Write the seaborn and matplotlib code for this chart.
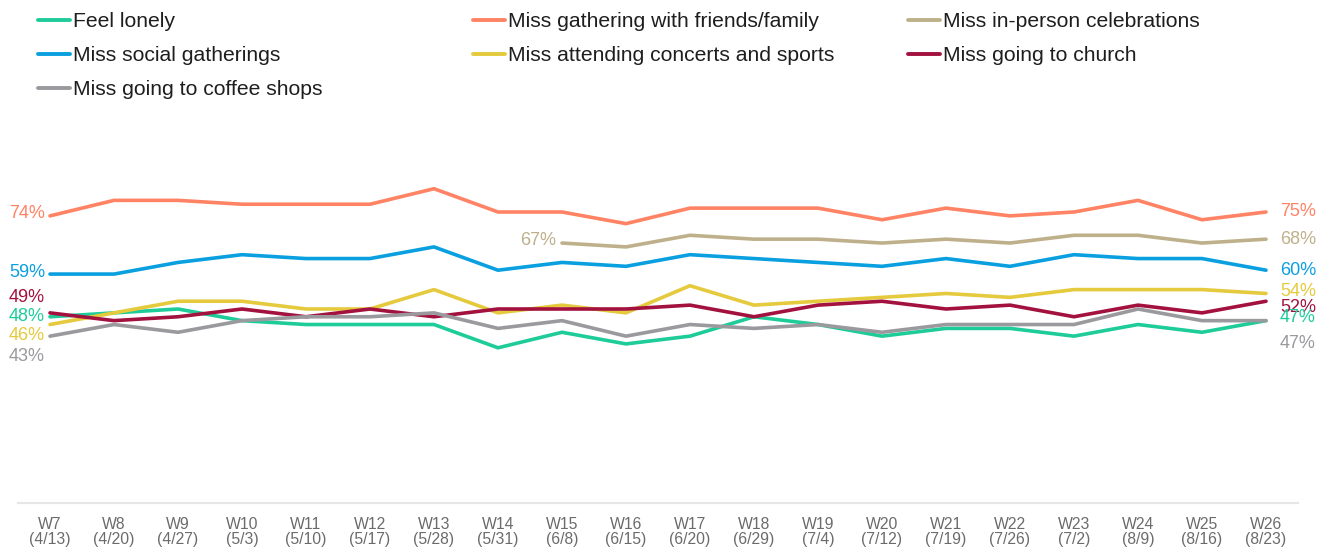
import numpy as np
import pandas as pd
import matplotlib
matplotlib.use("Agg")
import matplotlib.pyplot as plt
import seaborn as sns
from matplotlib.lines import Line2D

sns.set_theme(style="white")
plt.rcParams['font.family'] = ['Liberation Sans', 'DejaVu Sans']

weeks = ["W7", "W8", "W9", "W10", "W11", "W12", "W13", "W14", "W15", "W16",
         "W17", "W18", "W19", "W20", "W21", "W22", "W23", "W24", "W25", "W26"]
dates = ["(4/13)", "(4/20)", "(4/27)", "(5/3)", "(5/10)", "(5/17)", "(5/28)", "(5/31)", "(6/8)", "(6/15)",
         "(6/20)", "(6/29)", "(7/4)", "(7/12)", "(7/19)", "(7/26)", "(7/2)", "(8/9)", "(8/16)", "(8/23)"]

feel_lonely   = [48, 49, 50, 47, 46, 46, 46, 40, 44, 41, 43, 48, 46, 43, 45, 45, 43, 46, 44, 47]
miss_friends  = [74, 78, 78, 77, 77, 77, 81, 75, 75, 72, 76, 76, 76, 73, 76, 74, 75, 78, 73, 75]
miss_celebr   = [np.nan] * 8 + [67, 66, 69, 68, 68, 67, 68, 67, 69, 69, 67, 68]
miss_social   = [59, 59, 62, 64, 63, 63, 66, 60, 62, 61, 64, 63, 62, 61, 63, 61, 64, 63, 63, 60]
miss_concerts = [46, 49, 52, 52, 50, 50, 55, 49, 51, 49, 56, 51, 52, 53, 54, 53, 55, 55, 55, 54]
miss_church   = [49, 47, 48, 50, 48, 50, 48, 50, 50, 50, 51, 48, 51, 52, 50, 51, 48, 51, 49, 52]
miss_coffee   = [43, 46, 44, 47, 48, 48, 49, 45, 47, 43, 46, 45, 46, 44, 46, 46, 46, 50, 47, 47]

names = ["Feel lonely", "Miss gathering with friends/family", "Miss in-person celebrations",
         "Miss social gatherings", "Miss attending concerts and sports", "Miss going to church",
         "Miss going to coffee shops"]
series = [feel_lonely, miss_friends, miss_celebr, miss_social, miss_concerts, miss_church, miss_coffee]
colors = ["#1ECC9A", "#FF8364", "#BEB08B", "#0AA0E0", "#E4CA3C", "#A3123F", "#9A9A9E"]
palette = dict(zip(names, colors))

rows = []
for n, vals in zip(names, series):
    for i, v in enumerate(vals):
        rows.append({"idx": i, "value": v, "series": n})
df = pd.DataFrame(rows).dropna()

fig = plt.figure(figsize=(13.29, 5.48), dpi=100)
ax = fig.add_axes([18 / 1329, 45 / 548, 1280 / 1329, 388 / 548])

sns.lineplot(data=df, x="idx", y="value", hue="series", palette=palette,
             hue_order=names, linewidth=2.6, ax=ax, legend=False, sort=True)

ax.set_xlim(-0.5, 19.5)
ax.set_ylim(0, 100)
for s in ["top", "right", "left"]:
    ax.spines[s].set_visible(False)
ax.spines["bottom"].set_color("#E6E6E6")
ax.spines["bottom"].set_linewidth(1.5)
ax.set_yticks([])
ax.set_xticks(range(len(weeks)))
ax.set_xticklabels([f"{w}\n{d}" for w, d in zip(weeks, dates)], fontsize=11.3, color="#6B6B6B",
                   linespacing=1.0)
ax.tick_params(axis="x", length=0, pad=10)
ax.set_xlabel("")
ax.set_ylabel("")

# end labels: (series index -> offset y px)
left_offsets = {1: 2, 3: 2, 5: 15, 0: 0, 4: -11, 6: -20}
right_offsets = {1: 0, 2: 0, 3: 0, 4: 2, 5: -6, 0: 3, 6: -23}
for k, dy in left_offsets.items():
    v = series[k][0]
    ax.annotate(f"{int(v)}%", xy=(0, v), xytext=(-5, dy), textcoords="offset pixels",
                ha="right", va="center", fontsize=13, color=colors[k])
for k, dy in right_offsets.items():
    v = series[k][-1]
    ax.annotate(f"{int(v)}%", xy=(len(weeks) - 1, v), xytext=(14, dy), textcoords="offset pixels",
                ha="left", va="center", fontsize=13, color=colors[k])
ax.annotate(f"{int(miss_celebr[8])}%", xy=(8, miss_celebr[8]), xytext=(-6, 3), textcoords="offset pixels",
            ha="right", va="center", fontsize=13, color=colors[2])

# legend in three columns
handles = {n: Line2D([], [], color=c, linewidth=2.8) for n, c in palette.items()}
cols = [([names[0], names[3], names[6]], 38),
        ([names[1], names[4]], 473),
        ([names[2], names[5]], 908)]
for labels, xpx in cols:
    leg = fig.legend([handles[l] for l in labels], labels, loc="upper left",
                     bbox_to_anchor=(xpx / 1329, 1 - 12 / 548), frameon=False,
                     fontsize=15.2, handlelength=1.52, handletextpad=0.14,
                     labelspacing=0.72, borderpad=0, borderaxespad=0)
    for t in leg.get_texts():
        t.set_color("#1E1E1E")

fig.savefig("out.png", dpi=100)
